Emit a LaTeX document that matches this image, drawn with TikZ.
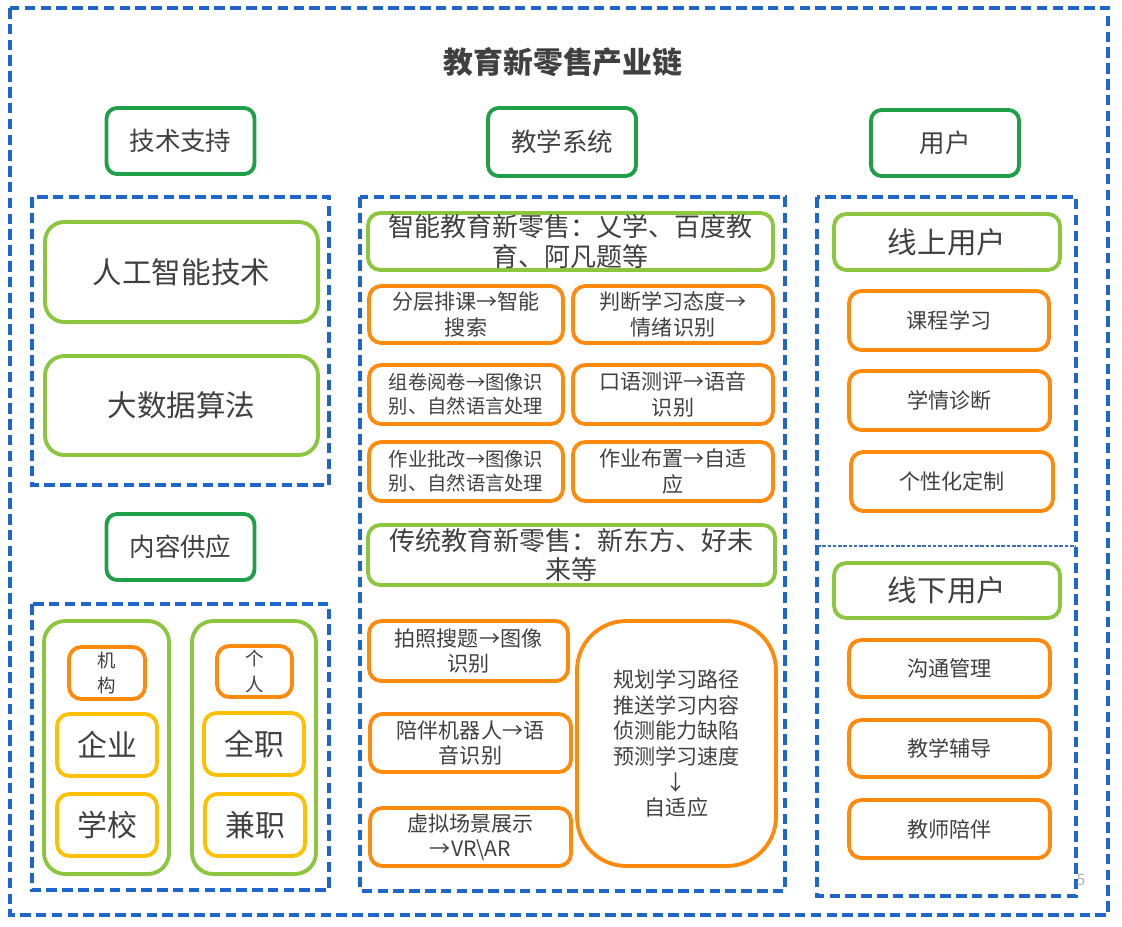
\documentclass[tikz,border=0pt]{standalone}
\usepackage{fontspec}
\setmainfont{Noto Sans CJK SC}
\usepackage{xcolor}
\usetikzlibrary{positioning}
\definecolor{lineblue}{HTML}{1F66CC}
\definecolor{hdrgreen}{HTML}{1FA048}
\definecolor{lgreen}{HTML}{8CC63F}
\definecolor{orng}{HTML}{FF8A0C}
\definecolor{yllw}{HTML}{FFC000}
\definecolor{txt}{HTML}{404040}

\begin{document}
\begin{tikzpicture}[x=0.02cm,y=-0.02cm,
  dbox/.style={draw=lineblue,line width=1.8pt,dash pattern=on 6pt off 3pt},
  hdr/.style={draw=hdrgreen,line width=2.2pt,rounded corners=6pt,minimum width=2.96cm,minimum height=1.32cm,inner sep=0pt,text=txt,font=\fontsize{14.5}{17}\selectfont},
  gbox/.style={draw=lgreen,line width=2.2pt,rounded corners=7pt,inner sep=0pt,text=txt,align=center},
  obox/.style={draw=orng,line width=2.2pt,rounded corners=7pt,inner sep=0pt,text=txt,align=center,font=\fontsize{12}{14.6}\selectfont},
  ybox/.style={draw=yllw,line width=2.2pt,rounded corners=7pt,inner sep=0pt,text=txt,minimum width=2cm,minimum height=1.24cm,font=\fontsize{17}{20}\selectfont},
  grp/.style={draw=lgreen,line width=2.2pt,rounded corners=12pt,minimum width=2.5cm,minimum height=5.06cm}]
  \useasboundingbox (0,0) rectangle (1122,926);
  % frames
  \draw[dbox] (10,8) rectangle (1108,915);
  \draw[dbox] (32,197) rectangle (329,485);
  \draw[dbox] (32,604) rectangle (329,890);
  \draw[dbox] (360,197) rectangle (785,891);
  \draw[dbox] (817,197) rectangle (1076,896);
  \draw[lineblue!70!gray,line width=0.6pt,dash pattern=on 2pt off 1pt] (817,546) -- (1076,546);
  \node[text=txt,font=\fontsize{17}{20}\selectfont\bfseries] (title) at (563,62) {教育新零售产业链};
  % headers
  \node[hdr] (tech) at (180.5,141) {技术支持};
  \node[hdr,minimum height=1.36cm] (teach) at (562,142) {教学系统};
  \node[hdr] (user) at (945,143) {用户};
  \node[hdr] (cont) at (180.5,547) {内容供应};
  % left column
  \node[gbox,rounded corners=11pt,minimum width=5.46cm,minimum height=2cm,font=\fontsize{16.8}{20}\selectfont] (ai) at (181.5,272) {人工智能技术};
  \node[gbox,rounded corners=11pt,minimum width=5.46cm,minimum height=1.98cm,font=\fontsize{16.8}{20}\selectfont] (bd) at (181.5,405.5) {大数据算法};
  \node[grp] (g1) at (106.5,747.5) {};
  \node[grp,minimum width=2.48cm] (g2) at (254,747.5) {};
  \node[obox,minimum width=1.52cm,minimum height=1.04cm,font=\fontsize{10.5}{14.6}\selectfont] (org) at (107,673) {机\\构};
  \node[obox,minimum width=1.5cm,minimum height=1.02cm,font=\fontsize{10.5}{14.6}\selectfont] (per) at (254.5,671.5) {个\\人};
  \node[ybox] (ent) at (107,745) {企业};
  \node[ybox] (sch) at (107,825) {学校};
  \node[ybox] (full) at (254,744) {全职};
  \node[ybox] (part) at (255,825) {兼职};
  % middle column
  \node[gbox,minimum width=8.1cm,minimum height=1.14cm,font=\fontsize{14.8}{17}\selectfont] (smart) at (570.5,241.5) {智能教育新零售：乂学、百度教\\育、阿凡题等};
  \node[obox,minimum width=3.88cm,minimum height=1.14cm] (m1) at (466,314.5) {分层排课→智能\\搜索};
  \node[obox,minimum width=4cm,minimum height=1.14cm] (m2) at (673,314.5) {判断学习态度→\\情绪识别};
  \node[obox,minimum width=3.88cm,minimum height=1.18cm,font=\fontsize{11}{13.8}\selectfont] (m3) at (466,394.5) {组卷阅卷→图像识\\别、自然语言处理};
  \node[obox,minimum width=4cm,minimum height=1.18cm] (m4) at (673,394.5) {口语测评→语音\\识别};
  \node[obox,minimum width=3.88cm,minimum height=1.18cm,font=\fontsize{11}{13.8}\selectfont] (m5) at (466,471.5) {作业批改→图像识\\别、自然语言处理};
  \node[obox,minimum width=4cm,minimum height=1.18cm] (m6) at (673,471.5) {作业布置→自适\\应};
  \node[gbox,minimum width=8.14cm,minimum height=1.2cm,font=\fontsize{14.8}{17}\selectfont] (trad) at (571.5,555) {传统教育新零售：新东方、好未\\来等};
  \node[obox,minimum width=3.98cm,minimum height=1.2cm] (t1) at (468.5,651) {拍照搜题→图像\\识别};
  \node[obox,minimum width=4.02cm,minimum height=1.16cm] (t2) at (470.5,743) {陪伴机器人→语\\音识别};
  \node[obox,minimum width=4.02cm,minimum height=1.16cm] (t3) at (470.5,837) {虚拟场景展示\\→VR\textbackslash AR};
  \node[obox,rounded corners=28pt,minimum width=3.98cm,minimum height=4.9cm] (adapt) at (676.5,743.5) {规划学习路径\\推送学习内容\\侦测能力缺陷\\预测学习速度\\↓\\自适应};
  % right column
  \node[gbox,minimum width=4.52cm,minimum height=1.12cm,font=\fontsize{16.8}{20}\selectfont] (on) at (947,242) {线上用户};
  \node[obox,minimum width=4cm,minimum height=1.18cm] (r1) at (949,320.5) {课程学习};
  \node[obox,minimum width=4.02cm,minimum height=1.18cm] (r2) at (949.5,400.5) {学情诊断};
  \node[obox,minimum width=4.04cm,minimum height=1.18cm] (r3) at (952,481.5) {个性化定制};
  \node[gbox,minimum width=4.52cm,minimum height=1.1cm,font=\fontsize{16.8}{20}\selectfont] (off) at (947,590.5) {线下用户};
  \node[obox,minimum width=4.02cm,minimum height=1.14cm] (r4) at (949.5,668.5) {沟通管理};
  \node[obox,minimum width=4.02cm,minimum height=1.14cm] (r5) at (949.5,748.5) {教学辅导};
  \node[obox,minimum width=4.02cm,minimum height=1.16cm] (r6) at (949.5,829) {教师陪伴};
  \node[text=gray!60,font=\fontsize{9}{10}\selectfont] (pg) at (1081,880) {5};
\end{tikzpicture}
\end{document}
